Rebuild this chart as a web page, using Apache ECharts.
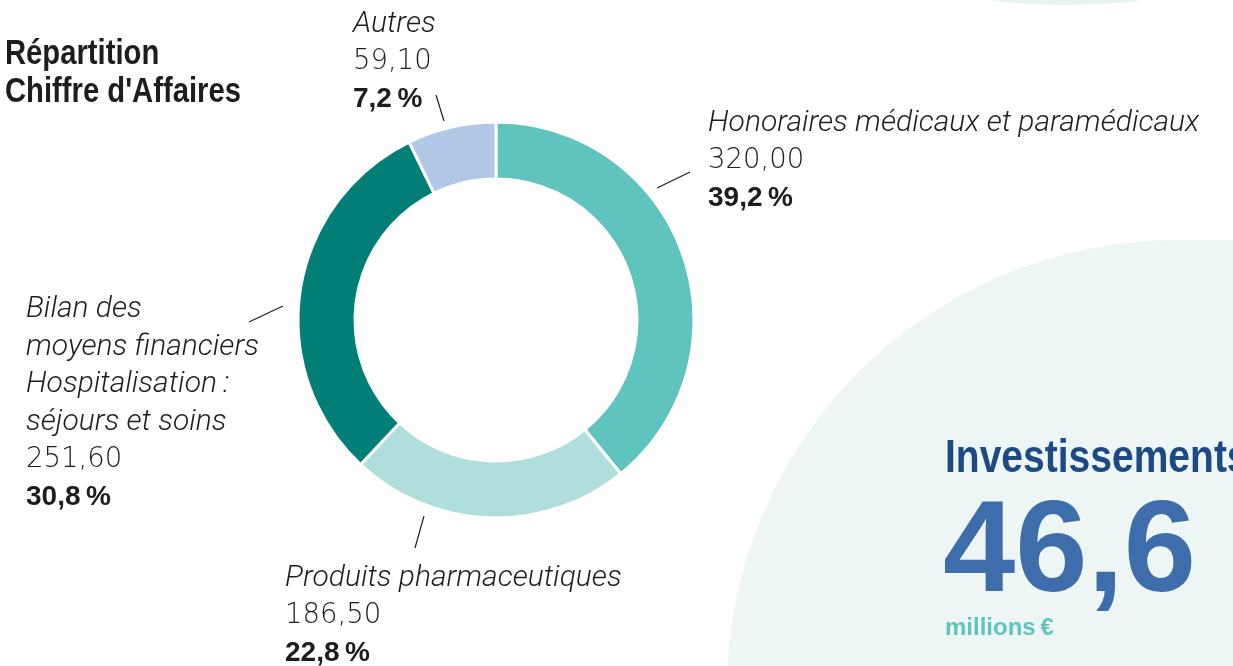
<!DOCTYPE html>
<html>
<head>
<meta charset="utf-8">
<script src="https://cdn.jsdelivr.net/npm/echarts@6/dist/echarts.min.js"></script>
<style>
  html, body { margin: 0; padding: 0; background: #fff; }
  #chart { width: 1233px; height: 666px; }
</style>
</head>
<body>
<div id="chart"></div>
<script>
// données du graphique
var categories = [
  'Honoraires médicaux et paramédicaux',
  'Produits pharmaceutiques',
  'Bilan des\nmoyens financiers\nHospitalisation\u2009:\nséjours et soins',
  'Autres'
];
var values = [320.00, 186.50, 251.60, 59.10];
var colors = ['#5fc4bd', '#b0dfdb', '#017f77', '#b2c7e5'];

var invLabel = 'Investissements';
var invValue = '46,6';
var invUnit = 'millions\u2009€';

// position des étiquettes (coin haut-gauche) et des petits traits
var labelPos = [[708, 105], [285, 560], [26, 291], [353, 6]];
var leaderLines = [[657, 188, 690, 172], [424, 516, 415, 548], [249, 322, 283, 306], [436, 95, 444, 121]];

var total = values.reduce(function (a, b) { return a + b; }, 0);

function frNum(v, d) {
  return v.toFixed(d).replace('.', ',');
}

var narrowBold = '"Liberation Sans", Arial, sans-serif';

window.onload = function () {
  var myChart = echarts.init(document.getElementById('chart'));

  var graphics = [
    // cercle en haut à droite
    { type: 'circle', shape: { cx: 1066, cy: -583, r: 588 }, style: { fill: '#e5f3f1' }, z: -10 },
    // grand fond arrondi en bas à droite
    { type: 'rect', shape: { x: 727, y: 240, width: 1000, height: 1000, r: 450 }, style: { fill: '#eef6f5' }, z: -10 },
    { type: 'text', x: 5, y: 35, scaleX: 0.835, style: {
        text: 'Répartition\nChiffre d\'Affaires',
        font: 'bold 35px ' + narrowBold,
        lineHeight: 38, fill: '#1d1d1b' } },
    { type: 'text', x: 945, y: 436, scaleX: 0.83, style: {
        text: invLabel, font: 'bold 47px ' + narrowBold, fill: '#1c4a85' } },
    { type: 'text', x: 943, y: 490, style: {
        text: invValue, font: 'bold 130px "Liberation Sans", Arial, sans-serif', fill: '#3d6dab' } },
    { type: 'text', x: 945, y: 616, style: {
        text: invUnit, font: 'bold 24px ' + narrowBold, fill: '#5ec4bd' } }
  ];
  leaderLines.forEach(function (l) {
    graphics.push({ type: 'line', shape: { x1: l[0], y1: l[1], x2: l[2], y2: l[3] },
      style: { stroke: '#1d1d1b', lineWidth: 1.2 } });
  });

  var option = {
    backgroundColor: '#ffffff',
    animation: false,
    graphic: graphics,
    series: [{
      type: 'pie',
      center: [496, 320],
      radius: [141, 198],
      startAngle: 90,
      clockwise: true,
      itemStyle: { borderColor: '#ffffff', borderWidth: 3 },
      label: {
        show: true,
        position: 'outside',
        formatter: function (p) {
          return '{n|' + p.name + '}\n{v|' + frNum(p.value, 2) + '}\n{p|' +
            frNum(p.value / total * 100, 1) + '\u2009%}';
        },
        rich: {
          n: { fontFamily: 'Roboto', fontStyle: 'italic', fontWeight: 300, fontSize: 30, lineHeight: 37.5, color: '#1d1d1b' },
          v: { fontFamily: '"DejaVu Sans"', fontWeight: 200, fontSize: 27.5, lineHeight: 37.5, color: '#1d1d1b' },
          p: { fontFamily: '"Liberation Sans", Arial', fontWeight: 'bold', fontSize: 28, lineHeight: 37.5, color: '#1d1d1b' }
        }
      },
      labelLine: { show: false },
      labelLayout: function (p) {
        var pos = labelPos[p.dataIndex];
        return { x: pos[0], y: pos[1], align: 'left', verticalAlign: 'top' };
      },
      data: categories.map(function (c, i) {
        return { name: c, value: values[i], itemStyle: { color: colors[i] } };
      })
    }]
  };
  myChart.setOption(option);
};
</script>
</body>
</html>
